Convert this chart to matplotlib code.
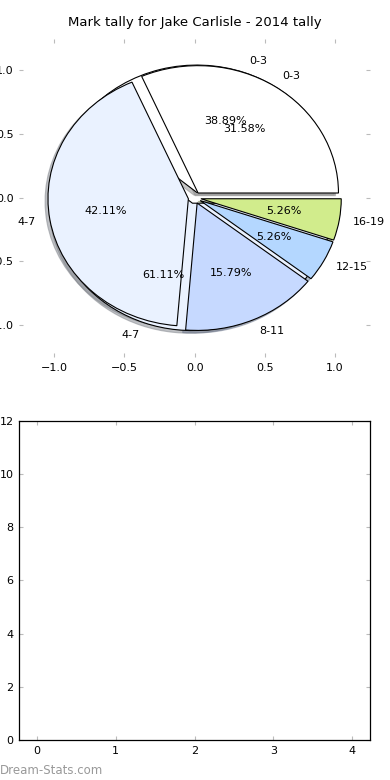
import matplotlib
matplotlib.use('Agg')
import matplotlib.pyplot as plt

# first tally (2 groups) and second tally (5 groups)
labels_a = ['0-3', '4-7']
values_a = [38.89, 61.11]
colors_a = ['#ffffff', '#eaf2ff']

labels_b = ['0-3', '4-7', '8-11', '12-15', '16-19']
values_b = [31.58, 42.11, 15.79, 5.26, 5.26]
colors_b = ['#ffffff', '#eaf2ff', '#c6d9ff', '#b4d7ff', '#d1ec8c']

pie_ticks = [-1.0, -0.5, 0.0, 0.5, 1.0]
bar_xticks = [0, 1, 2, 3, 4]
bar_yticks = [0, 2, 4, 6, 8, 10, 12]

plt.rcParams['font.size'] = 8
plt.rcParams['axes.unicode_minus'] = True

fig = plt.figure(figsize=(3.9, 7.8), dpi=100)
ax1 = fig.add_axes([0.049, 0.5423, 0.9, 0.4082])
ax2 = fig.add_axes([0.049, 0.0513, 0.9, 0.409])

wedge_style = {'edgecolor': 'black', 'linewidth': 0.8}
shadow_style = {'ox': -0.015, 'oy': -0.015, 'shade': 0.45}
ax1.pie(values_a, labels=labels_a, colors=colors_a, explode=[0.045] * 2,
        autopct='%.2f%%', shadow=shadow_style, wedgeprops=wedge_style,
        textprops={'fontsize': 8})
ax1.pie(values_b, labels=labels_b, colors=colors_b, explode=[0.045] * 5,
        autopct='%.2f%%', shadow=shadow_style, wedgeprops=wedge_style,
        textprops={'fontsize': 8})

ax1.set_aspect('auto')
ax1.set_xlim(-1.25, 1.25)
ax1.set_ylim(-1.25, 1.25)
ax1.set_xticks(pie_ticks)
ax1.set_yticks(pie_ticks)
ax1.set_frame_on(False)
ax1.tick_params(direction='in', length=3, color='#bbbbbb', top=True, right=True,
                labelsize=8, pad=4)
ax1.set_title('Mark tally for Jake Carlisle - 2014 tally', fontsize=9.5, pad=9)

ax2.set_xlim(-0.225, 4.225)
ax2.set_ylim(0, 12)
ax2.set_xticks(bar_xticks)
ax2.set_yticks(bar_yticks)
ax2.tick_params(direction='in', length=3, color='#bbbbbb', top=True, right=True,
                labelsize=8, pad=4)
for sp in ax2.spines.values():
    sp.set_linewidth(0.9)

fig.text(0.0, 0.004, 'Dream-Stats.com', color='#999999', fontsize=8.5,
         ha='left', va='bottom')

fig.savefig('out.png', dpi=100)
